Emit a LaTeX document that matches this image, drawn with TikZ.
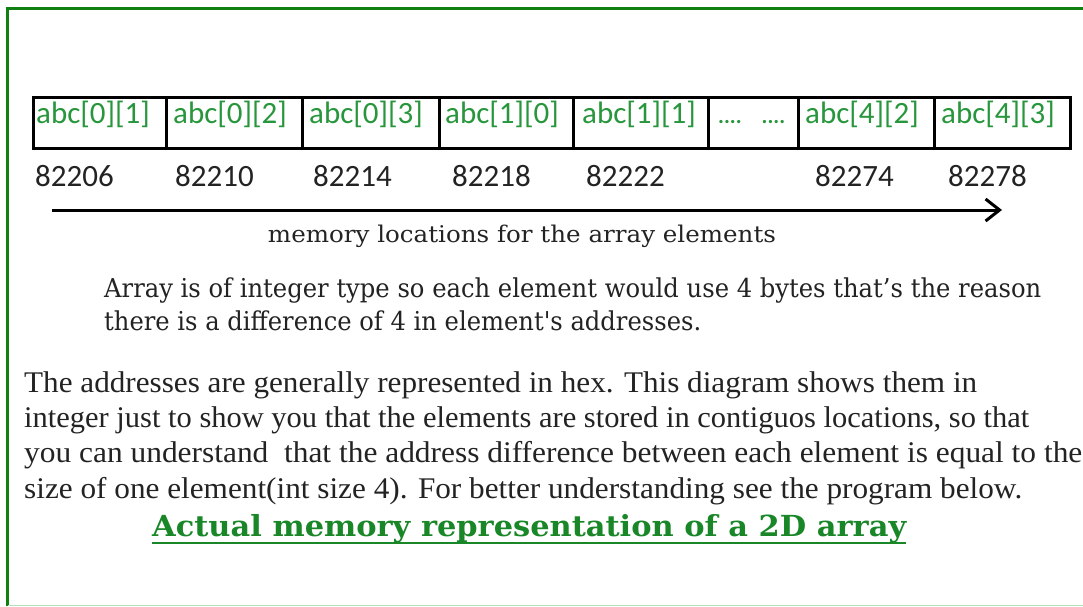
\documentclass[tikz,border=0pt]{standalone}
\usepackage{graphicx}
\usepackage{fontspec}
\setmainfont{Liberation Serif}
\newfontfamily\calfont{Carlito}
\newfontfamily\slabfont{DejaVu Serif}
\usetikzlibrary{arrows.meta}
\definecolor{bordergreen}{RGB}{16,128,16}
\definecolor{labelgreen}{RGB}{40,150,60}
\definecolor{titlegreen}{RGB}{25,135,40}
\definecolor{lightgreen}{RGB}{180,225,185}
\definecolor{textgray}{RGB}{35,35,35}
\newcommand{\fitw}[2]{\resizebox{#1}{\height}{#2}}
\tikzset{
  cellbox/.style={draw, line width=3pt, minimum height=51pt, anchor=north west,
    inner sep=0pt},
  lab/.style={anchor=base west, inner sep=0pt, text=labelgreen,
    font=\calfont\fontsize{31}{33}\selectfont},
  addr/.style={anchor=base west, inner sep=0pt, text=textgray,
    font=\calfont\fontsize{31}{33}\selectfont},
  bodyA/.style={anchor=base west, inner sep=0pt, text=textgray,
    font=\slabfont\fontsize{26}{28}\selectfont},
  bodyB/.style={anchor=base west, inner sep=0pt, text=textgray,
    font=\fontsize{30}{32}\selectfont},
}
\begin{document}
\begin{tikzpicture}[x=1pt,y=-1pt]
\useasboundingbox (0,0) rectangle (1083,607);
\fill[white] (0,0) rectangle (1083,607);
% frame
\draw[bordergreen, line width=3pt] (1090,9) -- (7.5,9) -- (7.5,606);
\draw[lightgreen, line width=1.5pt] (7.5,605.5) -- (1090,605.5);
% cells
\node[cellbox, minimum width=133pt] (c1) at (32,96) {};
\node[cellbox, minimum width=136pt] (c2) at (165,96) {};
\node[cellbox, minimum width=137pt] (c3) at (301,96) {};
\node[cellbox, minimum width=134pt] (c4) at (438,96) {};
\node[cellbox, minimum width=135pt] (c5) at (572,96) {};
\node[cellbox, minimum width=90pt] (c6) at (707,96) {};
\node[cellbox, minimum width=136pt] (c7) at (797,96) {};
\node[cellbox, minimum width=136pt] (c8) at (933,96) {};
% labels
\node[lab] (l1) at ([xshift=4pt,yshift=-1pt]c1.west) {abc[0][1]};
\node[lab] (l2) at ([xshift=8pt,yshift=-1pt]c2.west) {abc[0][2]};
\node[lab] (l3) at ([xshift=8pt,yshift=-1pt]c3.west) {abc[0][3]};
\node[lab] (l4) at ([xshift=7pt,yshift=-1pt]c4.west) {abc[1][0]};
\node[lab] (l5) at ([xshift=10pt,yshift=-1pt]c5.west) {abc[1][1]};
\node[lab, font=\calfont\bfseries\fontsize{22}{24}\selectfont] (l6) at ([xshift=11pt,yshift=-1pt]c6.west) {....\hspace{20pt}....};
\node[lab] (l7) at ([xshift=8pt,yshift=-1pt]c7.west) {abc[4][2]};
\node[lab] (l8) at ([xshift=8pt,yshift=-1pt]c8.west) {abc[4][3]};
% addresses
\node[addr] (a1) at (35,186) {82206};
\node[addr] (a2) at (175,186) {82210};
\node[addr] (a3) at (313,186) {82214};
\node[addr] (a4) at (452,186) {82218};
\node[addr] (a5) at (586,186) {82222};
\node[addr] (a7) at (815,186) {82274};
\node[addr] (a8) at (948,186) {82278};
% arrow
\coordinate (as) at (52,210);
\coordinate (ae) at (1002,210);
\draw[line width=3pt, -{Straight Barb[length=14pt,width=22pt,line width=3pt]}] (as) -- (ae);
\node[anchor=base, inner sep=0pt, text=textgray, font=\slabfont\fontsize{23}{25}\selectfont] (mem) at (522,242) {\fitw{508pt}{memory locations for the array elements}};
% paragraph 1
\node[bodyA] (p1a) at (104,297) {\fitw{937pt}{Array is of integer type so each element would use 4 bytes that’s the reason}};
\node[bodyA] (p1b) at (104,330) {\fitw{597pt}{there is a difference of 4 in element's addresses.}};
% paragraph 2
\node[bodyB] (p2a) at (24,392) {\fitw{953pt}{The addresses are generally represented in hex. This diagram shows them in}};
\node[bodyB] (p2b) at (24,427) {\fitw{1005pt}{integer just to show you that the elements are stored in contiguos locations, so that}};
\node[bodyB] (p2c) at (24,462) {\fitw{1058pt}{you can understand\ \ that the address difference between each element is equal to the}};
\node[bodyB] (p2d) at (24,498) {\fitw{998pt}{size of one element(int size 4). For better understanding see the program below.}};
% title
\node[anchor=base west, inner sep=0pt, text=titlegreen, font=\slabfont\bfseries\fontsize{29}{32}\selectfont] (title) at (152,536) {\fitw{754pt}{Actual memory representation of a 2D array}};
\draw[titlegreen, line width=2.5pt] ([yshift=-7pt]title.base west) -- ([yshift=-7pt]title.base east);
\end{tikzpicture}
\end{document}
